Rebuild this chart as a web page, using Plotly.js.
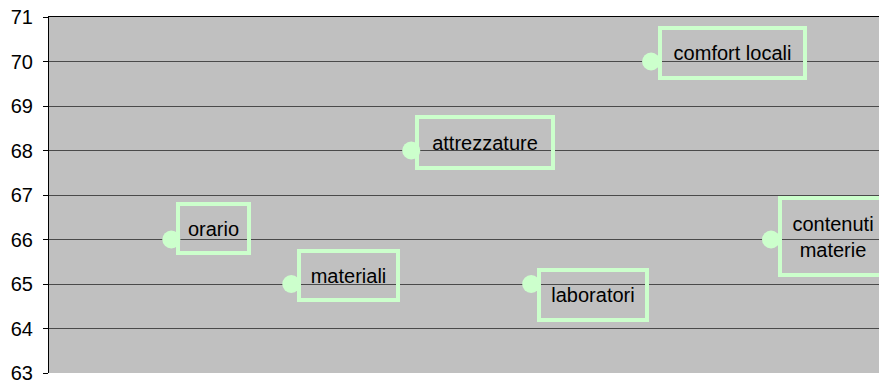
<!DOCTYPE html>
<html>
<head>
<meta charset="utf-8">
<script src="https://cdn.plot.ly/plotly-3.0.1.min.js"></script>
<style>
  html, body { margin: 0; padding: 0; background: #ffffff; }
  #chart { width: 879px; height: 383px; }
</style>
</head>
<body>
<div id="chart"></div>
<script>
// categories and scores
const categories = ["orario", "materiali", "attrezzature", "laboratori", "comfort locali", "contenuti materie"];
const scores = [66, 65, 68, 65, 70, 66];
const labelTexts = ["orario", "materiali", "attrezzature", "laboratori", "comfort locali", "contenuti<br>materie"];
const yTicks = [63, 64, 65, 66, 67, 68, 69, 70, 71];

// label box geometry (px)
const boxWidths = [67, 95, 132, 104, 141, 102];
const boxHeights = [45, 45, 47, 46, 46, 73];
const boxShiftX = [5, 6, 4, 6, 7, 7];
const boxShiftY = [11, 9, 8, -11, 9, 3];

const green = "#ccffcc";

const trace = {
    x: categories,
    y: scores,
    type: "scatter",
    mode: "markers",
    marker: { color: green, size: 18 },
    hoverinfo: "skip",
    showlegend: false
};

const annotations = categories.map(function(cat, i) {
    return {
        x: cat,
        y: scores[i],
        xref: "x",
        yref: "y",
        text: labelTexts[i],
        showarrow: false,
        xanchor: "left",
        yanchor: "middle",
        xshift: boxShiftX[i],
        yshift: boxShiftY[i],
        width: boxWidths[i],
        height: boxHeights[i],
        align: "center",
        valign: "middle",
        bordercolor: green,
        borderwidth: 4,
        borderpad: 0,
        font: { family: "Liberation Sans, Arial, sans-serif", size: 20, color: "#000000" }
    };
});

const layout = {
    width: 879,
    height: 383,
    margin: { l: 49, r: 0, t: 17, b: 10 },
    paper_bgcolor: "#ffffff",
    plot_bgcolor: "#c0c0c0",
    font: { family: "Liberation Sans, Arial, sans-serif", size: 20, color: "#000000" },
    xaxis: {
        type: "category",
        range: [-1.02, 5.9],
        side: "top",
        showline: true,
        linecolor: "#000000",
        linewidth: 1,
        showgrid: false,
        zeroline: false,
        showticklabels: false,
        ticks: ""
    },
    yaxis: {
        range: [63, 71],
        tickvals: yTicks,
        ticktext: yTicks.map(String),
        showline: true,
        linecolor: "#000000",
        linewidth: 1,
        ticks: "outside",
        ticklen: 5,
        tickcolor: "#000000",
        gridcolor: "#4a4a4a",
        gridwidth: 1,
        zeroline: false,
        ticklabelstandoff: 6,
        ticklabeloverflow: "allow",
        tickfont: { size: 20 }
    },
    annotations: annotations
};

Plotly.newPlot("chart", [trace], layout, { displayModeBar: false, staticPlot: true });
</script>
</body>
</html>
